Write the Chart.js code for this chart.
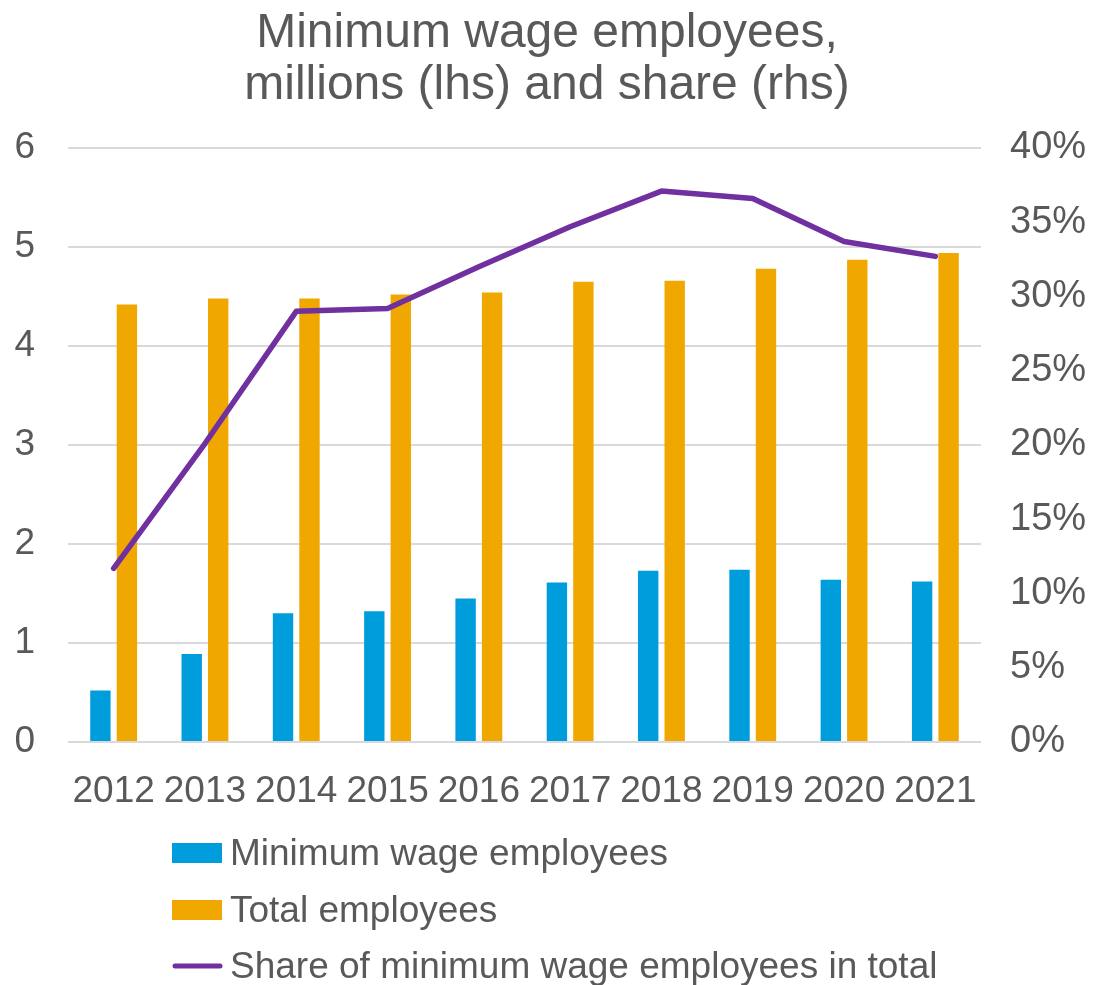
<!DOCTYPE html>
<html>
<head>
<meta charset="utf-8">
<title>Minimum wage employees</title>
<script src="https://cdn.jsdelivr.net/npm/chart.js@4.4.1/dist/chart.umd.min.js"></script>
<style>
  html, body { margin: 0; padding: 0; background: #fff; }
  #wrap { width: 1094px; height: 985px; }
</style>
</head>
<body>
<div id="wrap"><canvas id="chart"></canvas></div>
<script>
// years on the category axis
const years = ['2012', '2013', '2014', '2015', '2016', '2017', '2018', '2019', '2020', '2021']

// employees, millions (lhs)
const minWageEmployees = [0.52, 0.89, 1.30, 1.32, 1.45, 1.61, 1.73, 1.74, 1.64, 1.62]
const totalEmployees = [4.42, 4.48, 4.48, 4.52, 4.54, 4.65, 4.66, 4.78, 4.87, 4.94]

// share of minimum wage employees in total, % (rhs)
const minWageShare = [11.7, 20.1, 29.0, 29.2, 32.0, 34.7, 37.1, 36.6, 33.7, 32.7]

// axis ranges
const lhsMax = 6
const rhsMax = 40
const rhsStep = 5

const colors = {
  blue: '#009ddc',
  orange: '#f0a800',
  purple: '#7030a0',
  text: '#595959',
  grid: '#d9d9d9'
}
const fontFamily = '"Liberation Sans", Arial, sans-serif'
const labelSize = 37

// legend drawn as a left aligned list below the x axis
const listLegend = {
  id: 'listLegend',
  afterDraw(chart) {
    const { ctx } = chart
    const rowY = [853, 910, 966]
    const boxX = 172
    const textX = 230
    ctx.save()
    ctx.font = `${labelSize}px ${fontFamily}`
    ctx.textBaseline = 'middle'
    ctx.textAlign = 'left'
    chart.data.datasets.forEach((ds, i) => {
      const y = rowY[i]
      if (ds.type === 'line') {
        ctx.strokeStyle = ds.borderColor
        ctx.lineWidth = 5
        ctx.lineCap = 'round'
        ctx.beginPath()
        ctx.moveTo(boxX + 3, y)
        ctx.lineTo(boxX + 48, y)
        ctx.stroke()
      } else {
        ctx.fillStyle = ds.backgroundColor
        ctx.fillRect(boxX, y - 10, 50, 20)
      }
      ctx.fillStyle = colors.text
      ctx.fillText(ds.label, textX, y + 2)
    })
    ctx.restore()
  }
}

const ctx = document.getElementById('chart').getContext('2d')

window.wageChart = new Chart(ctx, {
  type: 'bar',
  data: {
    labels: years,
    datasets: [{
      label: 'Minimum wage employees',
      data: minWageEmployees,
      backgroundColor: colors.blue,
      yAxisID: 'y',
      order: 1
    }, {
      label: 'Total employees',
      data: totalEmployees,
      backgroundColor: colors.orange,
      yAxisID: 'y',
      order: 1
    }, {
      type: 'line',
      label: 'Share of minimum wage employees in total',
      data: minWageShare,
      borderColor: colors.purple,
      backgroundColor: colors.purple,
      borderWidth: 5.5,
      borderCapStyle: 'round',
      borderJoinStyle: 'round',
      pointRadius: 0,
      tension: 0,
      yAxisID: 'y1',
      order: 0
    }]
  },
  options: {
    responsive: true,
    maintainAspectRatio: false,
    animation: false,
    categoryPercentage: 0.58,
    barPercentage: 0.77,
    layout: { padding: 0 },
    plugins: {
      legend: { display: false },
      tooltip: { enabled: false },
      title: {
        display: true,
        text: ['Minimum wage employees,', 'millions (lhs) and share (rhs)'],
        color: colors.text,
        font: { family: fontFamily, size: 48, weight: 'normal', lineHeight: 1.1 },
        padding: { top: 7, bottom: 35.4 }
      }
    },
    scales: {
      x: {
        grid: { display: false },
        border: { display: false },
        ticks: {
          color: colors.text,
          font: { family: fontFamily, size: labelSize },
          padding: 20,
          maxRotation: 0,
          autoSkip: false
        },
        afterFit(scale) { scale.height = 243 }
      },
      y: {
        position: 'left',
        min: 0,
        max: lhsMax,
        grid: { color: colors.grid, lineWidth: 2, drawTicks: false },
        border: { display: false },
        ticks: {
          stepSize: 1,
          color: colors.text,
          font: { family: fontFamily, size: labelSize },
          padding: 33
        },
        afterFit(scale) { scale.width = 68 }
      },
      y1: {
        position: 'right',
        min: 0,
        max: rhsMax,
        grid: { display: false, drawTicks: false },
        border: { display: false },
        ticks: {
          stepSize: rhsStep,
          color: colors.text,
          font: { family: fontFamily, size: labelSize + 1 },
          padding: 29,
          callback: (v) => `${v}%`
        },
        afterFit(scale) { scale.width = 113 }
      }
    }
  },
  plugins: [listLegend]
})
</script>
</body>
</html>
